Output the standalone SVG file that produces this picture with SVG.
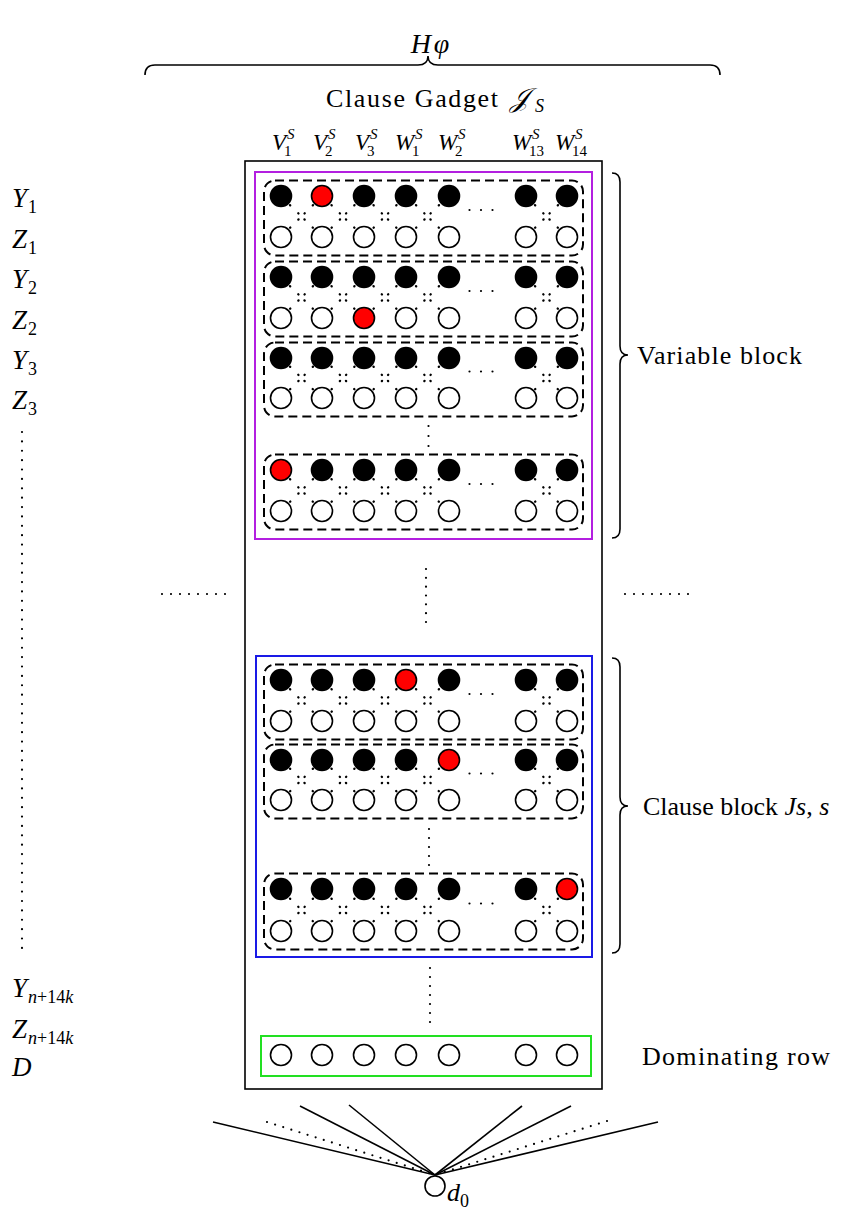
<svg xmlns="http://www.w3.org/2000/svg" xmlns:xlink="http://www.w3.org/1999/xlink" width="857" height="1210" viewBox="0 0 857 1210">
<style>
.b{fill:#000;stroke:#000;stroke-width:1.6}
.w{fill:#fff;stroke:#000;stroke-width:1.6}
.r{fill:#f00;stroke:#000;stroke-width:1.6}
.dt{fill:none;stroke:#000;stroke-width:2.3;stroke-linecap:round;stroke-dasharray:0.3 11.3 0.3 8.4 0.3 11.3 0.3 40}
.el{fill:none;stroke:#000;stroke-width:2.2;stroke-linecap:round;stroke-dasharray:0 11.5}
.vd{fill:none;stroke:#000;stroke-width:2.2;stroke-linecap:round}
.dash{fill:none;stroke:#000;stroke-width:2;stroke-dasharray:9 5}
.frame{fill:none;stroke:#000;stroke-width:1.6}
.brace{fill:none;stroke:#000;stroke-width:1.6}
.ln{fill:none;stroke:#000;stroke-width:1.6}
.t{font-family:"Liberation Serif",serif;fill:#000}
.mi{font-family:"Liberation Serif",serif;font-style:italic;fill:#000}
</style>
<defs>
<g id="xp"><line class="dt" x1="-11.5" y1="-11.35" x2="11.5" y2="11.35"/><line class="dt" x1="11.5" y1="-11.35" x2="-11.5" y2="11.35"/></g>
</defs>

<!-- top label and brace -->
<g id="top">
<text class="mi" x="430" y="53" font-size="28" text-anchor="middle">H<tspan dx="3">φ</tspan></text>
<path class="brace" d="M145,75 Q145,65 155,65 L418,65 Q428,65 428,56 Q428,65 438,65 L710,65 Q720,65 720,75"/>
<text class="t" x="326" y="107" font-size="26" textLength="172" lengthAdjust="spacing">Clause Gadget</text>
<text class="mi" x="510" y="107" font-size="27">𝒥</text>
<text class="mi" x="535" y="112" font-size="18">S</text>
</g>

<!-- column labels -->
<g id="collabels">
<text class="mi" x="272" y="150" font-size="23">V</text><text class="mi" x="287" y="139" font-size="15">S</text><text class="t" x="284" y="156" font-size="15">1</text>
<text class="mi" x="313" y="150" font-size="23">V</text><text class="mi" x="328" y="139" font-size="15">S</text><text class="t" x="325" y="156" font-size="15">2</text>
<text class="mi" x="355" y="150" font-size="23">V</text><text class="mi" x="370" y="139" font-size="15">S</text><text class="t" x="367" y="156" font-size="15">3</text>
<text class="mi" x="395" y="150" font-size="23">W</text><text class="mi" x="415" y="139" font-size="15">S</text><text class="t" x="412" y="156" font-size="15">1</text>
<text class="mi" x="438" y="150" font-size="23">W</text><text class="mi" x="458" y="139" font-size="15">S</text><text class="t" x="455" y="156" font-size="15">2</text>
<text class="mi" x="512" y="150" font-size="23">W</text><text class="mi" x="532" y="139" font-size="15">S</text><text class="t" x="529" y="156" font-size="15">13</text>
<text class="mi" x="555" y="150" font-size="23">W</text><text class="mi" x="575" y="139" font-size="15">S</text><text class="t" x="572" y="156" font-size="15">14</text>
</g>

<!-- left row labels -->
<g id="rowlabels">
<text class="mi" x="12" y="207" font-size="27">Y</text><text class="t" x="28" y="213" font-size="18">1</text>
<text class="mi" x="12" y="248" font-size="27">Z</text><text class="t" x="28" y="254" font-size="18">1</text>
<text class="mi" x="12" y="288" font-size="27">Y</text><text class="t" x="28" y="294" font-size="18">2</text>
<text class="mi" x="12" y="329" font-size="27">Z</text><text class="t" x="28" y="335" font-size="18">2</text>
<text class="mi" x="12" y="369" font-size="27">Y</text><text class="t" x="28" y="375" font-size="18">3</text>
<text class="mi" x="12" y="409" font-size="27">Z</text><text class="t" x="28" y="415" font-size="18">3</text>
<line class="vd" x1="22" y1="432" x2="22" y2="948.5" stroke-dasharray="0 9.38"/>
<text class="mi" x="12" y="997" font-size="27">Y</text><text x="28" y="1003" font-size="18"><tspan class="mi">n</tspan><tspan class="t">+14</tspan><tspan class="mi">k</tspan></text>
<text class="mi" x="12" y="1038" font-size="27">Z</text><text x="28" y="1044" font-size="18"><tspan class="mi">n</tspan><tspan class="t">+14</tspan><tspan class="mi">k</tspan></text>
<text class="mi" x="12" y="1076" font-size="27">D</text>
</g>

<!-- frames -->
<g id="frames">
<rect class="frame" x="245" y="161" width="357" height="928"/>
<rect x="255" y="172" width="337" height="367" fill="none" stroke="#b31fe0" stroke-width="2"/>
<rect x="256" y="656" width="336" height="301" fill="none" stroke="#1a1ae6" stroke-width="2"/>
<rect x="261" y="1036" width="330" height="40" fill="none" stroke="#22e022" stroke-width="2"/>
<rect class="dash" x="264" y="180.5" width="319" height="75" rx="11"/>
<rect class="dash" x="264" y="261.5" width="319" height="75" rx="11"/>
<rect class="dash" x="264" y="342.5" width="319" height="74" rx="11"/>
<rect class="dash" x="264" y="454.5" width="319" height="75" rx="11"/>
<rect class="dash" x="264" y="664.5" width="319" height="75" rx="11"/>
<rect class="dash" x="264" y="744.5" width="319" height="74" rx="11"/>
<rect class="dash" x="264" y="873.5" width="319" height="76" rx="11"/>
</g>

<!-- right braces and labels -->
<g id="braces">
<path class="brace" d="M612,173 Q620,173 620,182 L620,346 Q620,355 628,355 Q620,355 620,364 L620,529 Q620,538 612,538"/>
<text class="t" x="637" y="364" font-size="26" textLength="165" lengthAdjust="spacing">Variable block</text>
<path class="brace" d="M612,658 Q620,658 620,667 L620,797 Q620,806 628,806 Q620,806 620,815 L620,944 Q620,953 612,953"/>
<text x="643" y="815" font-size="26"><tspan class="t">Clause block </tspan><tspan class="mi">Js</tspan><tspan class="t">, </tspan><tspan class="mi">s</tspan></text>
<text class="t" x="642" y="1065" font-size="26" textLength="188" lengthAdjust="spacing">Dominating row</text>
</g>

<!-- connectors -->
<g id="connectors">
<use xlink:href="#xp" x="301.5" y="216.5"/><use xlink:href="#xp" x="343" y="216.5"/><use xlink:href="#xp" x="385" y="216.5"/><use xlink:href="#xp" x="427.5" y="216.5"/><use xlink:href="#xp" x="546.5" y="216.5"/>
<use xlink:href="#xp" x="301.5" y="297.5"/><use xlink:href="#xp" x="343" y="297.5"/><use xlink:href="#xp" x="385" y="297.5"/><use xlink:href="#xp" x="427.5" y="297.5"/><use xlink:href="#xp" x="546.5" y="297.5"/>
<use xlink:href="#xp" x="301.5" y="378"/><use xlink:href="#xp" x="343" y="378"/><use xlink:href="#xp" x="385" y="378"/><use xlink:href="#xp" x="427.5" y="378"/><use xlink:href="#xp" x="546.5" y="378"/>
<use xlink:href="#xp" x="301.5" y="490.5"/><use xlink:href="#xp" x="343" y="490.5"/><use xlink:href="#xp" x="385" y="490.5"/><use xlink:href="#xp" x="427.5" y="490.5"/><use xlink:href="#xp" x="546.5" y="490.5"/>
<use xlink:href="#xp" x="301.5" y="700.5"/><use xlink:href="#xp" x="343" y="700.5"/><use xlink:href="#xp" x="385" y="700.5"/><use xlink:href="#xp" x="427.5" y="700.5"/><use xlink:href="#xp" x="546.5" y="700.5"/>
<use xlink:href="#xp" x="301.5" y="780"/><use xlink:href="#xp" x="343" y="780"/><use xlink:href="#xp" x="385" y="780"/><use xlink:href="#xp" x="427.5" y="780"/><use xlink:href="#xp" x="546.5" y="780"/>
<use xlink:href="#xp" x="301.5" y="910"/><use xlink:href="#xp" x="343" y="910"/><use xlink:href="#xp" x="385" y="910"/><use xlink:href="#xp" x="427.5" y="910"/><use xlink:href="#xp" x="546.5" y="910"/>
<line class="el" x1="469.5" y1="210" x2="493" y2="210"/>
<line class="el" x1="469.5" y1="291" x2="493" y2="291"/>
<line class="el" x1="469.5" y1="371.5" x2="493" y2="371.5"/>
<line class="el" x1="469.5" y1="484" x2="493" y2="484"/>
<line class="el" x1="469.5" y1="694" x2="493" y2="694"/>
<line class="el" x1="469.5" y1="773.5" x2="493" y2="773.5"/>
<line class="el" x1="469.5" y1="903.5" x2="493" y2="903.5"/>
<line class="vd" x1="428.5" y1="426" x2="428.5" y2="446.5" stroke-dasharray="0 10"/>
<line class="vd" x1="426" y1="569" x2="426" y2="622.5" stroke-dasharray="0 8.83"/>
<line class="vd" x1="429" y1="829" x2="429" y2="865.5" stroke-dasharray="0 9"/>
<line class="vd" x1="430" y1="968" x2="430" y2="1022.5" stroke-dasharray="0 9"/>
<line class="vd" x1="162" y1="594" x2="225.5" y2="594" stroke-dasharray="0 9"/>
<line class="vd" x1="625" y1="594" x2="688.5" y2="594" stroke-dasharray="0 9"/>
<line class="ln" x1="213" y1="1122" x2="435" y2="1175"/>
<line class="ln" x1="300" y1="1106" x2="435" y2="1175"/>
<line class="ln" x1="349" y1="1105" x2="435" y2="1175"/>
<line class="ln" x1="522" y1="1106" x2="435" y2="1175"/>
<line class="ln" x1="571" y1="1106" x2="435" y2="1175"/>
<line class="ln" x1="658" y1="1122" x2="435" y2="1175"/>
<line class="vd" x1="267" y1="1122" x2="435" y2="1175" stroke-width="2" stroke-dasharray="0 8.5"/>
<line class="vd" x1="607" y1="1121" x2="435" y2="1175" stroke-width="2" stroke-dasharray="0 8.5"/>
</g>

<!-- variable block group 1 -->
<g id="v1-y0"><circle class="b" cx="281" cy="196" r="10.5"/></g>
<g id="v1-y1"><circle class="r" cx="322" cy="196" r="10.5"/></g>
<g id="v1-y2"><circle class="b" cx="364" cy="196" r="10.5"/></g>
<g id="v1-y3"><circle class="b" cx="406" cy="196" r="10.5"/></g>
<g id="v1-y4"><circle class="b" cx="449" cy="196" r="10.5"/></g>
<g id="v1-y5"><circle class="b" cx="526" cy="196" r="10.5"/></g>
<g id="v1-y6"><circle class="b" cx="567" cy="196" r="10.5"/></g>
<g id="v1-z0"><circle class="w" cx="281" cy="237" r="10.5"/></g>
<g id="v1-z1"><circle class="w" cx="322" cy="237" r="10.5"/></g>
<g id="v1-z2"><circle class="w" cx="364" cy="237" r="10.5"/></g>
<g id="v1-z3"><circle class="w" cx="406" cy="237" r="10.5"/></g>
<g id="v1-z4"><circle class="w" cx="449" cy="237" r="10.5"/></g>
<g id="v1-z5"><circle class="w" cx="526" cy="237" r="10.5"/></g>
<g id="v1-z6"><circle class="w" cx="567" cy="237" r="10.5"/></g>
<!-- group 2 -->
<g id="v2-y0"><circle class="b" cx="281" cy="277" r="10.5"/></g>
<g id="v2-y1"><circle class="b" cx="322" cy="277" r="10.5"/></g>
<g id="v2-y2"><circle class="b" cx="364" cy="277" r="10.5"/></g>
<g id="v2-y3"><circle class="b" cx="406" cy="277" r="10.5"/></g>
<g id="v2-y4"><circle class="b" cx="449" cy="277" r="10.5"/></g>
<g id="v2-y5"><circle class="b" cx="526" cy="277" r="10.5"/></g>
<g id="v2-y6"><circle class="b" cx="567" cy="277" r="10.5"/></g>
<g id="v2-z0"><circle class="w" cx="281" cy="318" r="10.5"/></g>
<g id="v2-z1"><circle class="w" cx="322" cy="318" r="10.5"/></g>
<g id="v2-z2"><circle class="r" cx="364" cy="318" r="10.5"/></g>
<g id="v2-z3"><circle class="w" cx="406" cy="318" r="10.5"/></g>
<g id="v2-z4"><circle class="w" cx="449" cy="318" r="10.5"/></g>
<g id="v2-z5"><circle class="w" cx="526" cy="318" r="10.5"/></g>
<g id="v2-z6"><circle class="w" cx="567" cy="318" r="10.5"/></g>
<!-- group 3 -->
<g id="v3-y0"><circle class="b" cx="281" cy="358" r="10.5"/></g>
<g id="v3-y1"><circle class="b" cx="322" cy="358" r="10.5"/></g>
<g id="v3-y2"><circle class="b" cx="364" cy="358" r="10.5"/></g>
<g id="v3-y3"><circle class="b" cx="406" cy="358" r="10.5"/></g>
<g id="v3-y4"><circle class="b" cx="449" cy="358" r="10.5"/></g>
<g id="v3-y5"><circle class="b" cx="526" cy="358" r="10.5"/></g>
<g id="v3-y6"><circle class="b" cx="567" cy="358" r="10.5"/></g>
<g id="v3-z0"><circle class="w" cx="281" cy="398" r="10.5"/></g>
<g id="v3-z1"><circle class="w" cx="322" cy="398" r="10.5"/></g>
<g id="v3-z2"><circle class="w" cx="364" cy="398" r="10.5"/></g>
<g id="v3-z3"><circle class="w" cx="406" cy="398" r="10.5"/></g>
<g id="v3-z4"><circle class="w" cx="449" cy="398" r="10.5"/></g>
<g id="v3-z5"><circle class="w" cx="526" cy="398" r="10.5"/></g>
<g id="v3-z6"><circle class="w" cx="567" cy="398" r="10.5"/></g>
<!-- group 4 -->
<g id="v4-y0"><circle class="r" cx="281" cy="470" r="10.5"/></g>
<g id="v4-y1"><circle class="b" cx="322" cy="470" r="10.5"/></g>
<g id="v4-y2"><circle class="b" cx="364" cy="470" r="10.5"/></g>
<g id="v4-y3"><circle class="b" cx="406" cy="470" r="10.5"/></g>
<g id="v4-y4"><circle class="b" cx="449" cy="470" r="10.5"/></g>
<g id="v4-y5"><circle class="b" cx="526" cy="470" r="10.5"/></g>
<g id="v4-y6"><circle class="b" cx="567" cy="470" r="10.5"/></g>
<g id="v4-z0"><circle class="w" cx="281" cy="511" r="10.5"/></g>
<g id="v4-z1"><circle class="w" cx="322" cy="511" r="10.5"/></g>
<g id="v4-z2"><circle class="w" cx="364" cy="511" r="10.5"/></g>
<g id="v4-z3"><circle class="w" cx="406" cy="511" r="10.5"/></g>
<g id="v4-z4"><circle class="w" cx="449" cy="511" r="10.5"/></g>
<g id="v4-z5"><circle class="w" cx="526" cy="511" r="10.5"/></g>
<g id="v4-z6"><circle class="w" cx="567" cy="511" r="10.5"/></g>
<!-- clause group 1 -->
<g id="c1-y0"><circle class="b" cx="281" cy="680" r="10.5"/></g>
<g id="c1-y1"><circle class="b" cx="322" cy="680" r="10.5"/></g>
<g id="c1-y2"><circle class="b" cx="364" cy="680" r="10.5"/></g>
<g id="c1-y3"><circle class="r" cx="406" cy="680" r="10.5"/></g>
<g id="c1-y4"><circle class="b" cx="449" cy="680" r="10.5"/></g>
<g id="c1-y5"><circle class="b" cx="526" cy="680" r="10.5"/></g>
<g id="c1-y6"><circle class="b" cx="567" cy="680" r="10.5"/></g>
<g id="c1-z0"><circle class="w" cx="281" cy="721" r="10.5"/></g>
<g id="c1-z1"><circle class="w" cx="322" cy="721" r="10.5"/></g>
<g id="c1-z2"><circle class="w" cx="364" cy="721" r="10.5"/></g>
<g id="c1-z3"><circle class="w" cx="406" cy="721" r="10.5"/></g>
<g id="c1-z4"><circle class="w" cx="449" cy="721" r="10.5"/></g>
<g id="c1-z5"><circle class="w" cx="526" cy="721" r="10.5"/></g>
<g id="c1-z6"><circle class="w" cx="567" cy="721" r="10.5"/></g>
<!-- clause group 2 -->
<g id="c2-y0"><circle class="b" cx="281" cy="760" r="10.5"/></g>
<g id="c2-y1"><circle class="b" cx="322" cy="760" r="10.5"/></g>
<g id="c2-y2"><circle class="b" cx="364" cy="760" r="10.5"/></g>
<g id="c2-y3"><circle class="b" cx="406" cy="760" r="10.5"/></g>
<g id="c2-y4"><circle class="r" cx="449" cy="760" r="10.5"/></g>
<g id="c2-y5"><circle class="b" cx="526" cy="760" r="10.5"/></g>
<g id="c2-y6"><circle class="b" cx="567" cy="760" r="10.5"/></g>
<g id="c2-z0"><circle class="w" cx="281" cy="800" r="10.5"/></g>
<g id="c2-z1"><circle class="w" cx="322" cy="800" r="10.5"/></g>
<g id="c2-z2"><circle class="w" cx="364" cy="800" r="10.5"/></g>
<g id="c2-z3"><circle class="w" cx="406" cy="800" r="10.5"/></g>
<g id="c2-z4"><circle class="w" cx="449" cy="800" r="10.5"/></g>
<g id="c2-z5"><circle class="w" cx="526" cy="800" r="10.5"/></g>
<g id="c2-z6"><circle class="w" cx="567" cy="800" r="10.5"/></g>
<!-- clause group 3 -->
<g id="c3-y0"><circle class="b" cx="281" cy="889" r="10.5"/></g>
<g id="c3-y1"><circle class="b" cx="322" cy="889" r="10.5"/></g>
<g id="c3-y2"><circle class="b" cx="364" cy="889" r="10.5"/></g>
<g id="c3-y3"><circle class="b" cx="406" cy="889" r="10.5"/></g>
<g id="c3-y4"><circle class="b" cx="449" cy="889" r="10.5"/></g>
<g id="c3-y5"><circle class="b" cx="526" cy="889" r="10.5"/></g>
<g id="c3-y6"><circle class="r" cx="567" cy="889" r="10.5"/></g>
<g id="c3-z0"><circle class="w" cx="281" cy="931" r="10.5"/></g>
<g id="c3-z1"><circle class="w" cx="322" cy="931" r="10.5"/></g>
<g id="c3-z2"><circle class="w" cx="364" cy="931" r="10.5"/></g>
<g id="c3-z3"><circle class="w" cx="406" cy="931" r="10.5"/></g>
<g id="c3-z4"><circle class="w" cx="449" cy="931" r="10.5"/></g>
<g id="c3-z5"><circle class="w" cx="526" cy="931" r="10.5"/></g>
<g id="c3-z6"><circle class="w" cx="567" cy="931" r="10.5"/></g>
<!-- dominating row -->
<g id="d-0"><circle class="w" cx="281" cy="1055" r="10.5"/></g>
<g id="d-1"><circle class="w" cx="322" cy="1055" r="10.5"/></g>
<g id="d-2"><circle class="w" cx="364" cy="1055" r="10.5"/></g>
<g id="d-3"><circle class="w" cx="406" cy="1055" r="10.5"/></g>
<g id="d-4"><circle class="w" cx="449" cy="1055" r="10.5"/></g>
<g id="d-5"><circle class="w" cx="526" cy="1055" r="10.5"/></g>
<g id="d-6"><circle class="w" cx="567" cy="1055" r="10.5"/></g>
<!-- d0 -->
<g id="d0"><circle class="w" cx="435" cy="1186" r="10"/><text class="mi" x="447" y="1201" font-size="26">d</text><text class="t" x="460" y="1207" font-size="18">0</text></g>
</svg>
